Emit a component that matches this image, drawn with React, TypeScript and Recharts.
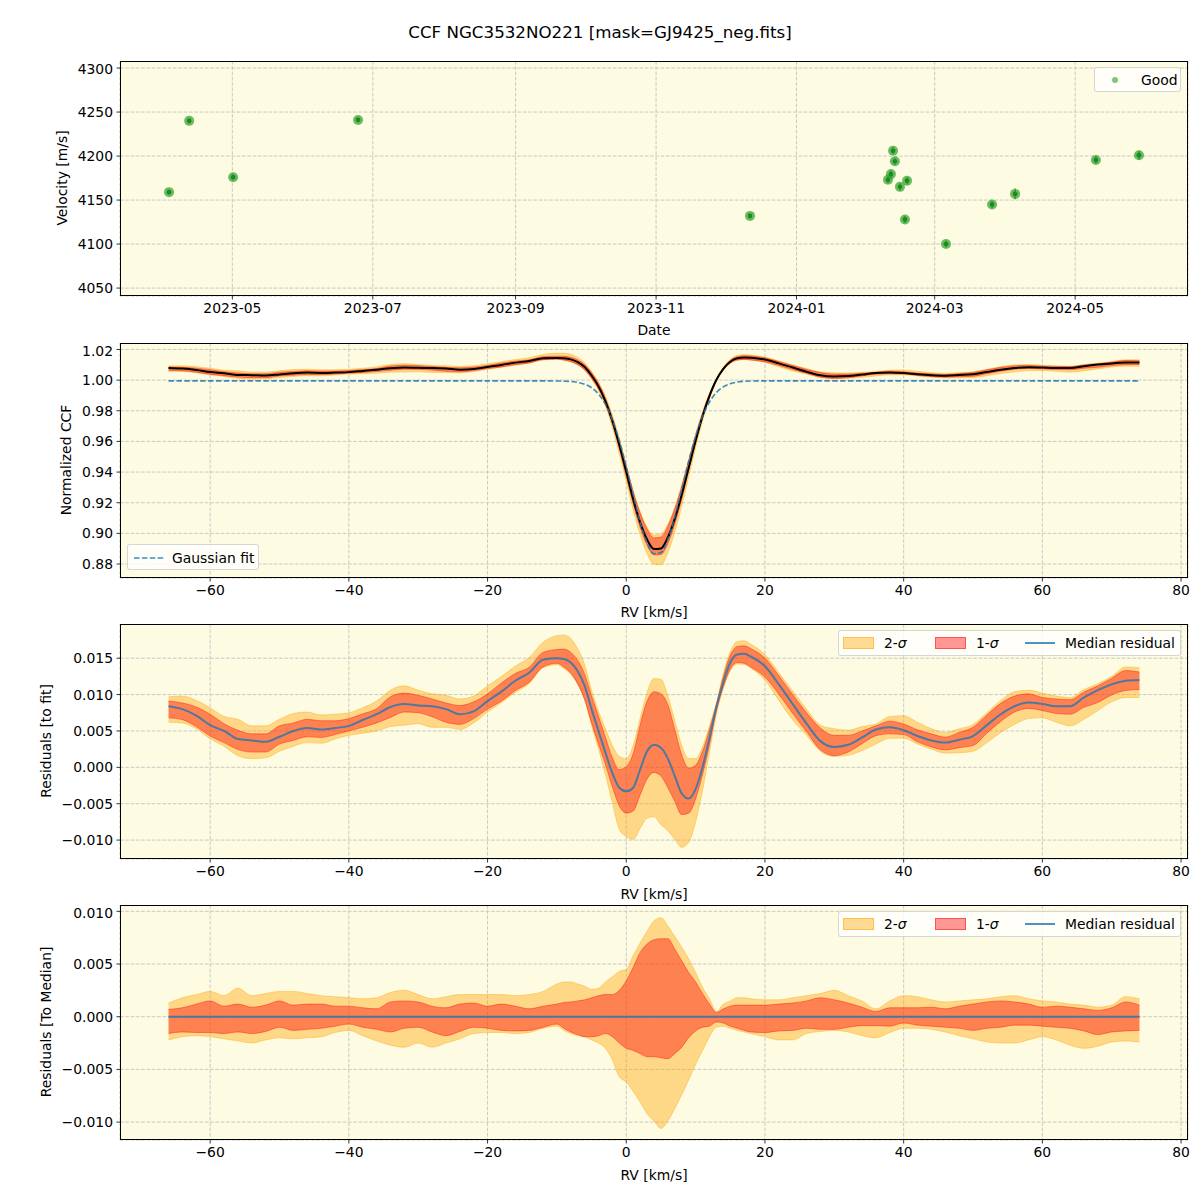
import React from 'react';
import {
  ComposedChart, ScatterChart, Scatter, ErrorBar, Line, Area, XAxis, YAxis, CartesianGrid,
} from 'recharts';

// ---- panel 1: RV time series ----
const obsDates = [
  '2023-04-03T12:00', '2023-04-12T06:00', '2023-05-01T08:00', '2023-06-24T14:00', '2023-12-11T19:00',
  '2024-02-09T17:00', '2024-02-11T00:00', '2024-02-11T22:00', '2024-02-12T17:00', '2024-02-14T22:00',
  '2024-02-17T02:00', '2024-02-18T00:00', '2024-03-05T22:00', '2024-03-25T22:00', '2024-04-04T22:00',
  '2024-05-10T00:00', '2024-05-28T17:00',
];
const obsVel = [4159, 4240, 4176, 4241, 4132, 4173, 4179.5, 4206, 4194, 4165, 4128, 4172, 4100, 4145, 4157, 4195.5, 4201];
const obsErr = [3, 3, 3, 3, 3, 4, 4, 4, 4, 4, 4, 4, 4, 4, 6, 4, 5];
const dateTicks = ['2023-05-01', '2023-07-01', '2023-09-01', '2023-11-01', '2024-01-01', '2024-03-01', '2024-05-01'];
const dateRange = ['2023-03-13T05:00', '2024-06-19T00:00'];
const velTicks = [4050, 4100, 4150, 4200, 4250, 4300];

// ---- CCF panels ----
const rv = [
  -66, -64, -62, -60, -58, -56, -54, -52, -50, -48, -46, -44, -42, -40, -38, -36, -34, -32, -30, -28, -26, -24, -22, -20, -18, -16, -14, -12, -10,
  -9, -8, -7, -6, -5, -4, -3, -2, -1, 0, 1, 2, 3, 4, 5, 6, 7, 8, 9, 10, 11, 12, 13, 14, 15, 16, 17,
  18, 20, 22, 24, 26, 28, 30, 32, 34, 36, 38, 40, 42, 44, 46, 48, 50, 52, 54, 56, 58, 60, 62, 64, 66, 68, 70, 72, 74,
];
const gaussFit = [
  0.9995, 0.9995, 0.9995, 0.9995, 0.9995, 0.9995, 0.9995, 0.9995, 0.9995, 0.9995, 0.9995, 0.9995, 0.9995, 0.9995, 0.9995,
  0.9995, 0.9995, 0.9995, 0.9995, 0.9995, 0.9995, 0.9995, 0.9995, 0.9995, 0.9995, 0.9995, 0.9995, 0.9995, 0.9994,
  0.9993, 0.9991, 0.9985, 0.9973, 0.9950, 0.9909, 0.9841, 0.9741, 0.9604,
  0.9435, 0.9251, 0.9075, 0.8938, 0.8867, 0.8875, 0.8961, 0.9108, 0.9288, 0.9471, 0.9634, 0.9764, 0.9857, 0.9919, 0.9956, 0.9976, 0.9987, 0.9992,
  0.9994, 0.9995, 0.9995, 0.9995, 0.9995, 0.9995, 0.9995, 0.9995, 0.9995, 0.9995, 0.9995, 0.9995, 0.9995, 0.9995, 0.9995,
  0.9995, 0.9995, 0.9995, 0.9995, 0.9995, 0.9995, 0.9995, 0.9995, 0.9995, 0.9995, 0.9995, 0.9995, 0.9995, 0.9995,
];
const medRes = [
  0.0084, 0.0080, 0.0071, 0.0058, 0.0050, 0.0039, 0.0037, 0.0035, 0.0042, 0.0050, 0.0054, 0.0052, 0.0054, 0.0057, 0.0065,
  0.0073, 0.0083, 0.0087, 0.0085, 0.0084, 0.0080, 0.0073, 0.0077, 0.0091, 0.0104, 0.0119, 0.0130, 0.0148, 0.0150,
  0.0149, 0.0144, 0.0132, 0.0112, 0.0080, 0.0050, 0.0020, -0.0008, -0.0028,
  -0.0033, -0.0028, -0.0003, 0.0022, 0.0031, 0.0027, 0.0012, -0.0012, -0.0036, -0.0043, -0.0030, 0.0000, 0.0040, 0.0083, 0.0117, 0.0144, 0.0155, 0.0156,
  0.0152, 0.0139, 0.0114, 0.0087, 0.0060, 0.0036, 0.0028, 0.0031, 0.0041, 0.0052, 0.0055, 0.0051, 0.0043, 0.0037, 0.0034,
  0.0038, 0.0043, 0.0058, 0.0073, 0.0084, 0.0089, 0.0087, 0.0084, 0.0084, 0.0096, 0.0106, 0.0114, 0.0119, 0.0120,
];
// percentile offsets from the median residual
const sig1Hi = [
  0.0007, 0.00085, 0.0012, 0.0015, 0.0010, 0.0012, 0.0009, 0.0011, 0.0015, 0.0011, 0.0012, 0.0012, 0.0010, 0.0010, 0.00085,
  0.00075, 0.0014, 0.0015, 0.0014, 0.0010, 0.00085, 0.0012, 0.0013, 0.0010, 0.0012, 0.0010, 0.00075, 0.0010, 0.0012,
  0.00135, 0.0014, 0.0015, 0.0016, 0.0018, 0.0020, 0.0021, 0.0021, 0.0025,
  0.0034, 0.0047, 0.0061, 0.0069, 0.0073, 0.0074, 0.0074, 0.0064, 0.0053, 0.0042, 0.0033, 0.0022, 0.0012, 0.0004, 0.00075, 0.0010, 0.0011, 0.0011,
  0.0011, 0.0011, 0.0012, 0.0013, 0.0015, 0.0018, 0.0016, 0.0013, 0.0009, 0.0005, 0.00085, 0.00085, 0.00085, 0.0009, 0.00075,
  0.0010, 0.0012, 0.0014, 0.0015, 0.0014, 0.0012, 0.0009, 0.0010, 0.0009, 0.00075, 0.0006, 0.00085, 0.0014, 0.0011,
];
const sig1Lo = [
  -0.0016, -0.00145, -0.0015, -0.0015, -0.0016, -0.00145, -0.0016, -0.0014, -0.0010, -0.0013, -0.0012, -0.0011, -0.0009, -0.0007, -0.0010,
  -0.0012, -0.00145, -0.0011, -0.0010, -0.00145, -0.0018, -0.0014, -0.0010, -0.0011, -0.0013, -0.00135, -0.0013, -0.0010, -0.0007,
  -0.0011, -0.00145, -0.0017, -0.0019, -0.0019, -0.0018, -0.0016, -0.0019, -0.0025,
  -0.0030, -0.0032, -0.0035, -0.0038, -0.0038, -0.0039, -0.0040, -0.0035, -0.0029, -0.0020, -0.00135, -0.0010, -0.0009, -0.0005, -0.0006, -0.0009, -0.0011, -0.0013,
  -0.00145, -0.0015, -0.00135, -0.0013, -0.0011, -0.0012, -0.0012, -0.0010, -0.00085, -0.00085, -0.0009, -0.0006, -0.0008, -0.0009, -0.0010,
  -0.0011, -0.0013, -0.0011, -0.0010, -0.0008, -0.0008, -0.0009, -0.0010, -0.0011, -0.00135, -0.0017, -0.00145, -0.00135, -0.0013,
];
const sig2Hi = [
  0.0013, 0.0018, 0.0021, 0.0024, 0.0020, 0.0027, 0.0020, 0.0022, 0.0024, 0.0024, 0.0022, 0.0020, 0.0019, 0.0018, 0.0017,
  0.0018, 0.0023, 0.0025, 0.0021, 0.0017, 0.0019, 0.0021, 0.0021, 0.0021, 0.0021, 0.0020, 0.0021, 0.0024, 0.0031,
  0.0033, 0.0033, 0.0031, 0.0029, 0.0026, 0.0027, 0.0033, 0.0038, 0.0043,
  0.0045, 0.0058, 0.0070, 0.0081, 0.0091, 0.0094, 0.0086, 0.0076, 0.0066, 0.0055, 0.0042, 0.0028, 0.0017, 0.0005, 0.0012, 0.0015, 0.0018, 0.0018,
  0.0017, 0.0016, 0.0016, 0.0018, 0.0020, 0.0022, 0.0025, 0.0020, 0.0015, 0.00075, 0.0015, 0.0020, 0.0019, 0.0016, 0.0014,
  0.0015, 0.0016, 0.0017, 0.0019, 0.0020, 0.0017, 0.0015, 0.0014, 0.0012, 0.0011, 0.0009, 0.0011, 0.0019, 0.0017,
];
const sig2Lo = [
  -0.0022, -0.0019, -0.0018, -0.0019, -0.0021, -0.0023, -0.0025, -0.0022, -0.0020, -0.0021, -0.0020, -0.0019, -0.0015, -0.0013, -0.0018,
  -0.0023, -0.0027, -0.0029, -0.0025, -0.0029, -0.0025, -0.0021, -0.0016, -0.0015, -0.0015, -0.0016, -0.0015, -0.0011, -0.0009,
  -0.0013, -0.0016, -0.0018, -0.0019, -0.0022, -0.0025, -0.0030, -0.0041, -0.0057,
  -0.0062, -0.0071, -0.0081, -0.0092, -0.0099, -0.0106, -0.0099, -0.0087, -0.0074, -0.0060, -0.0045, -0.0032, -0.0019, -0.0010, -0.0009, -0.0011, -0.0013, -0.00145,
  -0.0016, -0.0019, -0.0022, -0.0022, -0.0016, -0.0014, -0.0013, -0.00145, -0.0018, -0.0020, -0.0015, -0.0011, -0.0011, -0.0012, -0.00145,
  -0.0018, -0.0021, -0.0024, -0.0025, -0.0025, -0.0022, -0.0019, -0.0022, -0.0027, -0.0030, -0.0028, -0.0024, -0.0023, -0.0024,
];
const rvTicks = [-60, -40, -20, 0, 20, 40, 60, 80];
const ccfTicks = [0.88, 0.9, 0.92, 0.94, 0.96, 0.98, 1.0, 1.02];
const fitResTicks = [-0.01, -0.005, 0, 0.005, 0.01, 0.015];
const medResTicks = [-0.01, -0.005, 0, 0.005, 0.01];

const toMs = (s: string) => Date.parse(s.length > 10 ? s + ':00Z' : s + 'T00:00:00Z');

const obsRows = obsDates.map((d, i) => ({ t: toMs(d), v: obsVel[i], err: obsErr[i] }));

const rows = rv.map((x, i) => {
  const g = gaussFit[i];
  const m = medRes[i];
  return {
    rv: x,
    gauss: g,
    ccf: g + m,
    c2: [g + m + sig2Lo[i], g + m + sig2Hi[i]],
    c1: [g + m + sig1Lo[i], g + m + sig1Hi[i]],
    med: m,
    r2: [m + sig2Lo[i], m + sig2Hi[i]],
    r1: [m + sig1Lo[i], m + sig1Hi[i]],
    zero: m - m,
    d2: [sig2Lo[i], sig2Hi[i]],
    d1: [sig1Lo[i], sig1Hi[i]],
  };
});

const FONT = "'DejaVu Sans', sans-serif";
const BG = '#fdfbe1';
const PH = 235;
const PL = 120;
const PR = 1188;
const tickStyle = { fontSize: 13.9, fill: '#000', fontFamily: FONT };
const tickLine = { stroke: '#000', strokeWidth: 0.8 };
const minus = (s: string) => s.replace('-', '\u2212');
const fmtMonth = (v: number) => {
  const d = new Date(v);
  return `${d.getUTCFullYear()}-${String(d.getUTCMonth() + 1).padStart(2, '0')}`;
};

const Frame = ({ top }: { top: number }) => (
  <div style={{
    position: 'absolute', left: PL, top, width: PR - PL, height: PH,
    border: '1px solid #000', boxSizing: 'border-box', pointerEvents: 'none',
  }} />
);

const XLabel = ({ y, text }: { y: number; text: string }) => (
  <div style={{ position: 'absolute', left: (PL + PR) / 2, top: y, transform: 'translate(-50%, -50%)', fontSize: 13.9, whiteSpace: 'nowrap' }}>{text}</div>
);

const YLabel = ({ x, y, text }: { x: number; y: number; text: string }) => (
  <div style={{ position: 'absolute', left: x, top: y, transform: 'translate(-50%, -50%) rotate(-90deg)', fontSize: 13.9, whiteSpace: 'nowrap' }}>{text}</div>
);

const legendBox = (left: number, top: number, width: number, height: number): React.CSSProperties => ({
  position: 'absolute', left, top, width, height, background: 'rgba(255,255,255,0.8)',
  border: '1px solid rgba(204,204,204,0.8)', borderRadius: 3, boxSizing: 'border-box', fontSize: 13.9,
});

const abs = (left: number, top: number, extra: React.CSSProperties = {}): React.CSSProperties => ({ position: 'absolute', left, top, ...extra });

const BandLegend = ({ top }: { top: number }) => (
  <div style={legendBox(838, top, 343, 26)}>
    <div style={abs(4, 6, { width: 29, height: 10, background: 'rgba(255,165,0,0.4)', border: '1px solid rgba(255,165,0,0.5)' })} />
    <div style={abs(45, 12, { transform: 'translateY(-50%)', whiteSpace: 'nowrap' })}>2-<i>σ</i></div>
    <div style={abs(96, 6, { width: 29, height: 10, background: 'rgba(255,0,0,0.4)', border: '1px solid rgba(255,0,0,0.45)' })} />
    <div style={abs(137, 12, { transform: 'translateY(-50%)', whiteSpace: 'nowrap' })}>1-<i>σ</i></div>
    <div style={abs(186, 11, { width: 30, height: 2, background: 'rgba(31,119,180,0.8)' })} />
    <div style={abs(226, 12, { transform: 'translateY(-50%)', whiteSpace: 'nowrap' })}>Median residual</div>
  </div>
);

const ObsDot = (p: any) => (
  <g>
    <circle cx={p.cx} cy={p.cy} r={5} fill="#2ca02c" fillOpacity={0.7} />
    <circle cx={p.cx} cy={p.cy} r={2.4} fill="#1f8a1f" />
  </g>
);

const rvAxis = (
  <XAxis dataKey="rv" type="number" domain={[-73, 81]} ticks={rvTicks} allowDataOverflow
    height={30} tickSize={3.5} tickMargin={3.5} axisLine={false} tickLine={tickLine} tick={tickStyle}
    tickFormatter={(v: number) => minus(String(v))} />
);

const grid = <CartesianGrid stroke="#c9c9c9" strokeDasharray="3.7 1.6" fill={BG} />;

const margin = { top: 0, right: 1200 - PR, bottom: 0, left: 0 };

export default function App() {
  return (
    <div style={{ position: 'relative', width: 1200, height: 1200, background: '#fff', fontFamily: FONT, color: '#000' }}>
      <style>{'body{margin:0}'}</style>
      <div style={{ position: 'absolute', left: 600, top: 32, transform: 'translate(-50%, -50%)', fontSize: 16.7, whiteSpace: 'nowrap' }}>
        CCF NGC3532NO221 [mask=GJ9425_neg.fits]
      </div>

      {/* Panel 1 */}
      <div style={{ position: 'absolute', left: 0, top: 61 }}>
        <ScatterChart width={1200} height={PH + 30} margin={margin}>
          {grid}
          <XAxis dataKey="t" type="number" domain={[toMs(dateRange[0]), toMs(dateRange[1])]} allowDataOverflow
            ticks={dateTicks.map(toMs)} tickFormatter={fmtMonth}
            height={30} tickSize={3.5} tickMargin={3.5} axisLine={false} tickLine={tickLine} tick={tickStyle} />
          <YAxis dataKey="v" type="number" domain={[4041, 4308]} ticks={velTicks} allowDataOverflow width={PL}
            tickSize={3.5} tickMargin={3.5} axisLine={false} tickLine={tickLine} tick={tickStyle} />
          <Scatter data={obsRows} shape={ObsDot} isAnimationActive={false}>
            <ErrorBar dataKey="err" direction="y" width={0} stroke="#2ca02c" strokeWidth={1.5} />
          </Scatter>
        </ScatterChart>
      </div>
      <Frame top={61} />
      <XLabel y={330} text="Date" />
      <YLabel x={62} y={178} text="Velocity [m/s]" />
      <div style={legendBox(1094, 67, 87, 25)}>
        <div style={abs(17, 9, { width: 6, height: 6, borderRadius: 3, background: 'rgba(44,160,44,0.6)' })} />
        <div style={abs(46, 12, { transform: 'translateY(-50%)' })}>Good</div>
      </div>

      {/* Panel 2 */}
      <div style={{ position: 'absolute', left: 0, top: 343 }}>
        <ComposedChart width={1200} height={PH + 30} margin={margin} data={rows}>
          {grid}
          {rvAxis}
          <YAxis type="number" domain={[0.8709, 1.0242]} ticks={ccfTicks} allowDataOverflow width={PL}
            tickSize={3.5} tickMargin={3.5} axisLine={false} tickLine={tickLine} tick={tickStyle}
            tickFormatter={(v: number) => v.toFixed(2)} />
          <Area dataKey="c2" type="monotone" fill="orange" fillOpacity={0.4} stroke="orange" strokeOpacity={0.4} strokeWidth={1} isAnimationActive={false} />
          <Area dataKey="c1" type="monotone" fill="red" fillOpacity={0.4} stroke="red" strokeOpacity={0.4} strokeWidth={1} isAnimationActive={false} />
          <Line dataKey="ccf" type="monotone" stroke="#000" strokeWidth={2} dot={false} isAnimationActive={false} />
          <Line dataKey="gauss" type="monotone" stroke="#1f77b4" strokeOpacity={0.85} strokeWidth={1.6} strokeDasharray="5.5 2.4" dot={false} isAnimationActive={false} />
        </ComposedChart>
      </div>
      <Frame top={343} />
      <XLabel y={612} text="RV [km/s]" />
      <YLabel x={66} y={460} text="Normalized CCF" />
      <div style={legendBox(127, 544, 132, 26)}>
        <svg style={abs(6, 11)} width={30} height={4}>
          <line x1={0} y1={2} x2={30} y2={2} stroke="#1f77b4" strokeOpacity={0.85} strokeWidth={1.6} strokeDasharray="5.5 2.4" />
        </svg>
        <div style={abs(44, 13, { transform: 'translateY(-50%)', whiteSpace: 'nowrap' })}>Gaussian fit</div>
      </div>

      {/* Panel 3 */}
      <div style={{ position: 'absolute', left: 0, top: 624 }}>
        <ComposedChart width={1200} height={PH + 30} margin={margin} data={rows}>
          {grid}
          {rvAxis}
          <YAxis type="number" domain={[-0.0126, 0.0197]} ticks={fitResTicks} allowDataOverflow width={PL}
            tickSize={3.5} tickMargin={3.5} axisLine={false} tickLine={tickLine} tick={tickStyle}
            tickFormatter={(v: number) => minus(v.toFixed(3))} />
          <Area dataKey="r2" type="monotone" fill="orange" fillOpacity={0.4} stroke="orange" strokeOpacity={0.4} strokeWidth={1} isAnimationActive={false} />
          <Area dataKey="r1" type="monotone" fill="red" fillOpacity={0.4} stroke="red" strokeOpacity={0.4} strokeWidth={1} isAnimationActive={false} />
          <Line dataKey="med" type="monotone" stroke="#1f77b4" strokeOpacity={0.8} strokeWidth={2} dot={false} isAnimationActive={false} />
        </ComposedChart>
      </div>
      <Frame top={624} />
      <XLabel y={894} text="RV [km/s]" />
      <YLabel x={46} y={741} text="Residuals [to fit]" />
      <BandLegend top={630} />

      {/* Panel 4 */}
      <div style={{ position: 'absolute', left: 0, top: 905 }}>
        <ComposedChart width={1200} height={PH + 30} margin={margin} data={rows}>
          {grid}
          {rvAxis}
          <YAxis type="number" domain={[-0.0117, 0.0106]} ticks={medResTicks} allowDataOverflow width={PL}
            tickSize={3.5} tickMargin={3.5} axisLine={false} tickLine={tickLine} tick={tickStyle}
            tickFormatter={(v: number) => minus(v.toFixed(3))} />
          <Area dataKey="d2" type="monotone" fill="orange" fillOpacity={0.4} stroke="orange" strokeOpacity={0.4} strokeWidth={1} isAnimationActive={false} />
          <Area dataKey="d1" type="monotone" fill="red" fillOpacity={0.4} stroke="red" strokeOpacity={0.4} strokeWidth={1} isAnimationActive={false} />
          <Line dataKey="zero" type="linear" stroke="#1f77b4" strokeOpacity={0.8} strokeWidth={2} dot={false} isAnimationActive={false} />
        </ComposedChart>
      </div>
      <Frame top={905} />
      <XLabel y={1175} text="RV [km/s]" />
      <YLabel x={46} y={1022} text="Residuals [To Median]" />
      <BandLegend top={911} />
    </div>
  );
}
